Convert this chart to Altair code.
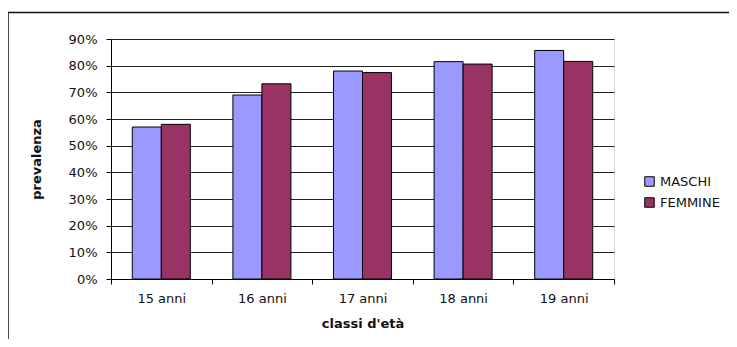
import altair as alt
import pandas as pd

classi = ["15 anni", "16 anni", "17 anni", "18 anni", "19 anni"]
maschi = [0.57, 0.69, 0.78, 0.815, 0.857]
femmine = [0.58, 0.732, 0.774, 0.806, 0.816]
serie = ["MASCHI", "FEMMINE"]
colori = ["#9999FF", "#993366"]
y_ticks = [0, 0.1, 0.2, 0.3, 0.4, 0.5, 0.6, 0.7, 0.8, 0.9]

rows = []
for c, m, f in zip(classi, maschi, femmine):
    rows.append({"classe": c, "sesso": "MASCHI", "valore": m})
    rows.append({"classe": c, "sesso": "FEMMINE", "valore": f})
df = pd.DataFrame(rows)

FONT = "DejaVu Sans"

bars = alt.Chart(df).mark_bar(stroke="#000000", strokeWidth=1).encode(
    x=alt.X(
        "classe:N",
        sort=classi,
        scale=alt.Scale(paddingInner=0, paddingOuter=0),
        axis=alt.Axis(
            title="classi d'età",
            labelAngle=0,
            tickBand="extent",
            tickSize=5,
            tickColor="#000000",
            domainColor="#000000",
            labelFont=FONT,
            labelFontSize=13,
            labelColor="#111111",
            labelPadding=8,
            titleFont=FONT,
            titleFontSize=13,
            titleFontWeight="bold",
            titleColor="#111111",
            titleY=44,
            titleBaseline="middle",
            grid=False,
        ),
    ),
    xOffset=alt.XOffset(
        "sesso:N",
        sort=serie,
        scale=alt.Scale(paddingInner=0, paddingOuter=0.734),
    ),
    y=alt.Y(
        "valore:Q",
        scale=alt.Scale(domain=[0, 0.9], nice=False),
        axis=alt.Axis(
            title="prevalenza",
            values=y_ticks,
            format=".0%",
            tickSize=5,
            tickColor="#000000",
            domainColor="#000000",
            gridColor="#222222",
            gridWidth=1,
            labelFont=FONT,
            labelFontSize=13,
            labelColor="#111111",
            labelPadding=9,
            titleFont=FONT,
            titleFontSize=13,
            titleFontWeight="bold",
            titleColor="#111111",
            titleAngle=270,
            titleX=-75,
            titleY=120,
            titleAlign="center",
            titleBaseline="middle",
        ),
    ),
    color=alt.Color(
        "sesso:N",
        sort=serie,
        scale=alt.Scale(domain=serie, range=colori),
        legend=alt.Legend(
            title=None,
            orient="none",
            legendX=532,
            legendY=136,
            symbolType="square",
            symbolSize=90,
            symbolStrokeColor="#000000",
            symbolStrokeWidth=1,
            symbolOpacity=1,
            labelFont=FONT,
            labelFontSize=13,
            labelColor="#111111",
            labelOffset=4,
            rowPadding=6,
        ),
    ),
)

frame = alt.Chart(pd.DataFrame({"k": [0]})).mark_rect(
    fill=None, stroke="#111111", strokeWidth=1.5
).encode(
    x=alt.value(-103),
    x2=alt.value(700),
    y=alt.value(-26.5),
    y2=alt.value(400),
)

chart = alt.layer(frame, bars).properties(
    width=503,
    height=240,
    autosize=alt.AutoSizeParams(type="none"),
    padding={"left": 103, "top": 31, "right": 115, "bottom": 60},
).configure_view(
    stroke="#808080", strokeWidth=1
).configure(background="#ffffff")

chart.save("out.html", embed_options={"renderer": "svg", "actions": False})
